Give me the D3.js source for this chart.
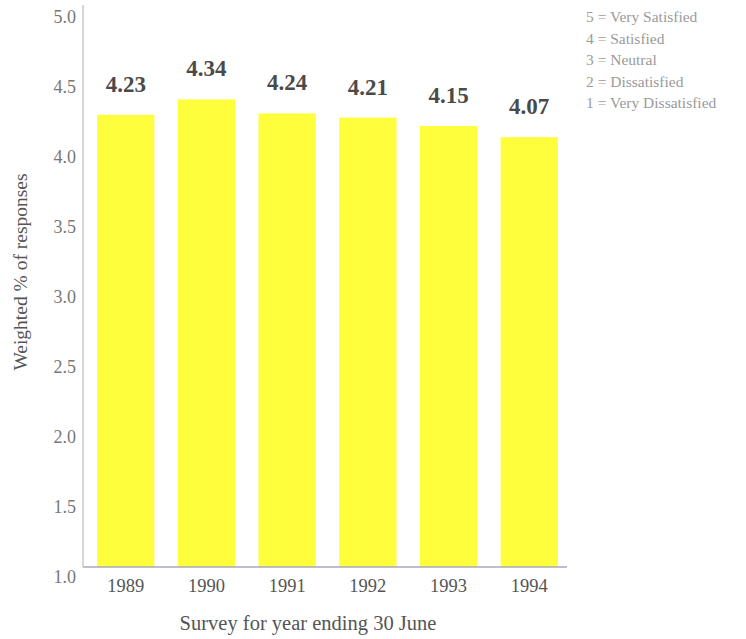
<!DOCTYPE html>
<html>
<head>
<meta charset="utf-8">
<script src="https://cdn.jsdelivr.net/npm/d3@7"></script>
<style>
  body { margin: 0; background: #fff; }
  svg text { font-family: "Liberation Serif", "Times New Roman", serif !important; }
</style>
</head>
<body>
<svg id="chart" width="746" height="639"></svg>
<script>
'use strict';

const years = ['1989', '1990', '1991', '1992', '1993', '1994'];
const scores = [4.23, 4.34, 4.24, 4.21, 4.15, 4.07];
const yTicks = [1.0, 1.5, 2.0, 2.5, 3.0, 3.5, 4.0, 4.5, 5.0];
const legendLines = [
    '5 = Very Satisfied',
    '4 = Satisfied',
    '3 = Neutral',
    '2 = Dissatisfied',
    '1 = Very Dissatisfied'
];

const svg = d3.select('#chart');
const axisX = 83;
const baseY = 567;

const x = d3.scaleBand()
    .domain(years)
    .range([85, 570])
    .paddingInner(0.29)
    .paddingOuter(0.15);

const y = d3.scaleLinear()
    .domain([1, 5])
    .range([baseY, 7]);

// bars
svg.selectAll('.bar')
    .data(scores)
    .enter()
    .append('rect')
    .attr('class', 'bar')
    .attr('x', (d, i) => x(years[i]))
    .attr('y', d => y(d))
    .attr('width', x.bandwidth())
    .attr('height', d => baseY - y(d))
    .attr('fill', '#fefe3c');

// value labels
svg.selectAll('.val')
    .data(scores)
    .enter()
    .append('text')
    .attr('class', 'val')
    .attr('x', (d, i) => x(years[i]) + x.bandwidth() / 2)
    .attr('y', d => y(d) - 23)
    .attr('text-anchor', 'middle')
    .attr('font-size', 23)
    .attr('font-weight', 'bold')
    .attr('fill', '#4a4a4a')
    .text(d => d.toFixed(2));

// y axis
const yAxis = d3.axisLeft(y)
    .tickValues(yTicks)
    .tickSize(0)
    .tickPadding(7)
    .tickFormat(d3.format('.1f'));

const gy = svg.append('g')
    .attr('transform', `translate(${axisX},0)`)
    .call(yAxis);
gy.select('.domain').remove();
gy.selectAll('text')
    .attr('font-size', 18)
    .attr('fill', '#777')
    .attr('dy', '0.32em')
    .attr('y', 10);

svg.append('line')
    .attr('x1', axisX).attr('x2', axisX)
    .attr('y1', 5).attr('y2', baseY)
    .attr('stroke', '#c8c8c8')
    .attr('stroke-width', 1.5);

// x axis
const xAxis = d3.axisBottom(x).tickSize(0).tickPadding(12);
const gx = svg.append('g')
    .attr('transform', `translate(0,${baseY})`)
    .call(xAxis);
gx.select('.domain').remove();
gx.selectAll('text')
    .attr('font-size', 18.5)
    .attr('fill', '#555');

svg.append('line')
    .attr('x1', axisX).attr('x2', 567)
    .attr('y1', baseY).attr('y2', baseY)
    .attr('stroke', '#a9aabb')
    .attr('stroke-width', 1.5);

// axis titles
svg.append('text')
    .attr('x', 308)
    .attr('y', 630)
    .attr('text-anchor', 'middle')
    .attr('font-size', 20.5)
    .attr('fill', '#555')
    .text('Survey for year ending 30 June');

svg.append('text')
    .attr('transform', 'translate(27,272) rotate(-90)')
    .attr('text-anchor', 'middle')
    .attr('font-size', 19.5)
    .attr('fill', '#555')
    .text('Weighted % of responses');

// legend
svg.selectAll('.legend')
    .data(legendLines)
    .enter()
    .append('text')
    .attr('class', 'legend')
    .attr('x', 586)
    .attr('y', (d, i) => 22 + i * 21.5)
    .attr('font-size', 15.5)
    .attr('fill', '#9a9a9a')
    .text(d => d);
</script>
</body>
</html>
